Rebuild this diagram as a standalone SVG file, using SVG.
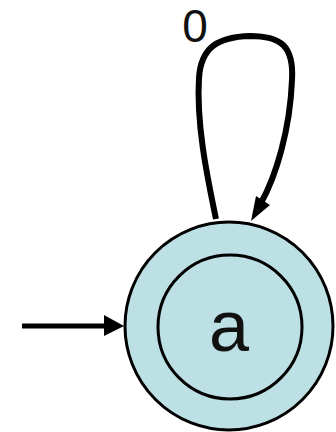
<svg xmlns="http://www.w3.org/2000/svg" width="336" height="432" viewBox="0 0 336 432">
<style>
.state{fill:#bce0e4;stroke:#000;stroke-width:3}
.edge{fill:none;stroke:#000;stroke-linecap:butt}
.lbl{font-family:"Liberation Sans",Arial,sans-serif;fill:#111}
</style>
<g id="edges">
<path class="edge" d="M22 326 L106 326" stroke-width="5"/>
<path d="M104 315 L124 326 L104 336 Z" fill="#000"/>
<path class="edge" d="M216 219 C208 180 196 125 199 78 C201 47 218 37 250 36 C281 36 294 46 292 80 C290 130 276 176 261 203" stroke-width="6"/>
<path d="M251 221 L256 196 L270 205 Z" fill="#000"/>
<text class="lbl" x="195" y="42" font-size="46" text-anchor="middle">0</text>
</g>
<g id="node-a">
<circle class="state" cx="229" cy="326" r="104"/>
<circle class="state" cx="230" cy="327" r="72" fill="none"/>
<text class="lbl" x="229" y="351" font-size="72" text-anchor="middle">a</text>
</g>
</svg>
